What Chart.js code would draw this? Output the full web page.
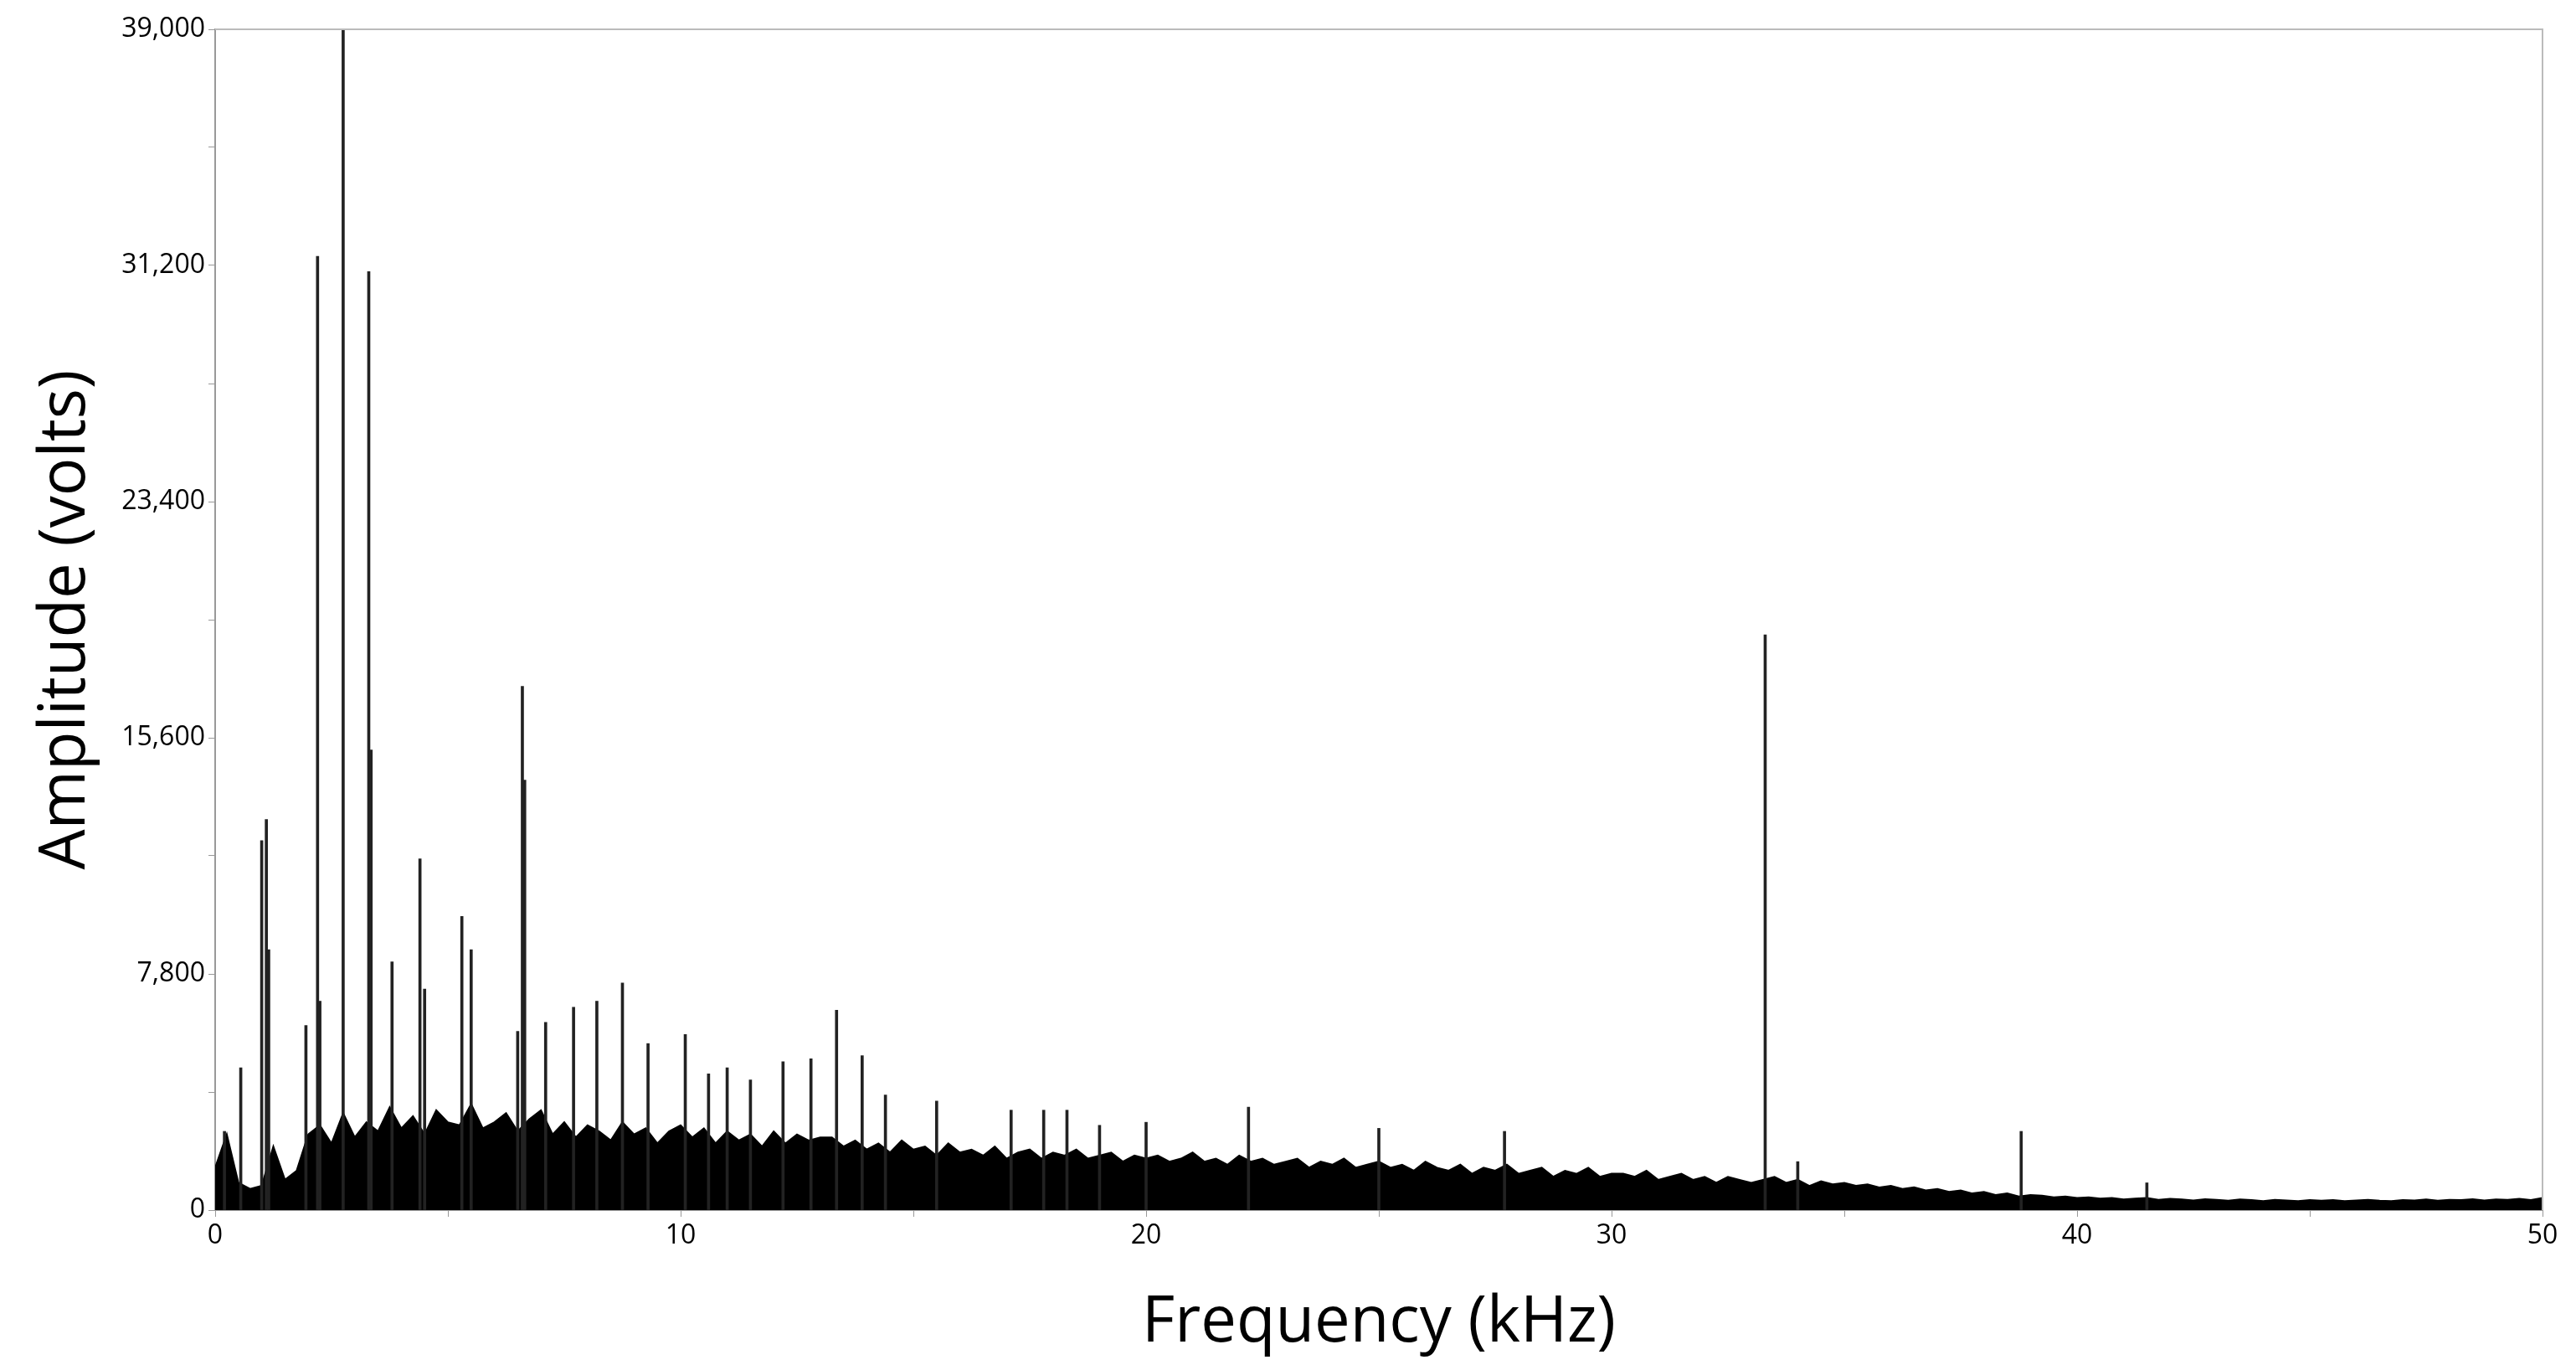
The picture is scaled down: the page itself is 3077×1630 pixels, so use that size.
<!DOCTYPE html>
<html><head><meta charset="utf-8">
<script src="https://cdn.jsdelivr.net/npm/chart.js@4"></script>
<style>html,body{margin:0;padding:0;background:#fff}#c{display:block}</style>
</head><body><canvas id="c" width="3077" height="1630"></canvas>
<script>
const floorStep = 0.25; // kHz
const floorValues = [
1400,2500,900,700,800,2100,1000,1300,2500,
2800,2200,3200,2400,2900,2600,3400,2700,3100,2500,3300,2900,
2800,3500,2700,2900,3200,2600,3000,3300,
2500,2900,2400,2800,2600,2300,2900,2500,2700,2200,2600,2800,
2400,2700,2200,2600,2300,2500,2100,2600,2200,2500,2300,2400,
2400,2100,2300,2000,2200,1900,2300,2000,2100,1800,2200,1900,
2000,1800,2100,1700,1900,2000,1700,1900,1800,2000,1700,1800,1900,1600,1800,1700,
1800,1600,1700,1900,1600,1700,1500,1800,1600,1700,1500,1600,1700,1400,1600,1500,1700,1400,1500,1600,
1400,1500,1300,1600,1400,1300,1500,1200,1400,1300,1500,1200,1300,1400,1100,1300,1200,1400,1100,1200,
1200,1100,1300,1000,1100,1200,1000,1100,900,1100,1000,900,1000,1100,900,1000,800,950,850,900,
800,850,750,800,700,750,650,700,600,650,550,600,500,550,450,500,480,420,450,400,
420,380,400,350,380,400,340,370,350,320,360,340,310,350,330,300,340,320,300,330,
310,330,300,320,340,310,300,330,320,350,310,340,330,360,320,350,340,370,330,400
];
const peakFreqs = [0.2,0.55,1.0,1.1,1.15,1.95,2.2,2.25,2.75,3.3,3.35,3.8,4.4,4.5,5.3,5.5,6.5,6.6,6.65,7.1,7.7,8.2,8.75,9.3,10.1,10.6,11.0,11.5,12.2,12.8,13.35,13.9,14.4,15.5,17.1,17.8,18.3,19.0,20.0,22.2,25.0,27.7,33.3,34.0,38.8,41.5];
const peakAmps  = [2600,4700,12200,12900,8600,6100,31500,6900,39000,31000,15200,8200,11600,7300,9700,8600,5900,17300,14200,6200,6700,6900,7500,5500,5800,4500,4700,4300,4900,5000,6600,5100,3800,3600,3300,3300,3300,2800,2900,3400,2700,2600,19000,1600,2600,900];
const yTicks = [0,7800,15600,23400,31200,39000];
const xTicks = [0,10,20,30,40,50];

const floorData = floorValues.map((v,i)=>({x:i*floorStep,y:v}));
const peakData = peakFreqs.map((f,i)=>({x:f,y:peakAmps[i]}));

const frame = {id:'frame',afterDraw(c){const a=c.chartArea,g=c.ctx;g.save();g.strokeStyle='#bbb';g.lineWidth=2;
g.beginPath();g.moveTo(a.left,a.top);g.lineTo(a.right,a.top);g.lineTo(a.right,a.bottom);g.stroke();g.restore();}};

new Chart(document.getElementById('c'),{
  type:'bar',
  data:{datasets:[
    {type:'line',data:floorData,borderColor:'#000',backgroundColor:'#000',borderWidth:2,fill:'origin',pointRadius:0,tension:0,order:2},
    {type:'bar',data:peakData,backgroundColor:'#222',barThickness:3,order:1}
  ]},
  options:{
    responsive:false,animation:false,
    layout:{padding:{top:35,right:40,left:30,bottom:0}},
    plugins:{legend:{display:false},tooltip:{enabled:false}},
    scales:{
      x:{type:'linear',min:0,max:50,offset:false,
        afterFit(s){s.height=185;},
        afterBuildTicks(s){s.ticks=[0,5,10,15,20,25,30,35,40,45,50].map(v=>({value:v}));},
        grid:{drawOnChartArea:false,offset:false,tickLength:8,color:'#999'},
        border:{color:'#999',width:2},
        ticks:{font:{family:'Open Sans',size:32},color:'#000',maxRotation:0,padding:4,
          callback:v=>xTicks.includes(v)?String(v):''},
        title:{display:true,text:'Frequency (kHz)',font:{family:'Open Sans',size:76},color:'#000',padding:{top:0}}
      },
      y:{min:0,max:39000,
        afterFit(s){s.width=227;},
        afterBuildTicks(s){const t=[];for(let v=0;v<=39000;v+=3900)t.push({value:v});s.ticks=t;},
        grid:{drawOnChartArea:false,tickLength:8,color:'#999'},
        border:{color:'#999',width:2},
        ticks:{font:{family:'Open Sans',size:32},color:'#000',padding:4,
          callback:v=>yTicks.includes(v)?v.toLocaleString('en-US'):''},
        title:{display:true,text:'Amplitude (volts)',font:{family:'Open Sans',size:76},color:'#000',padding:{bottom:0}}
      }
    }
  },
  plugins:[frame]
});
</script></body></html>
